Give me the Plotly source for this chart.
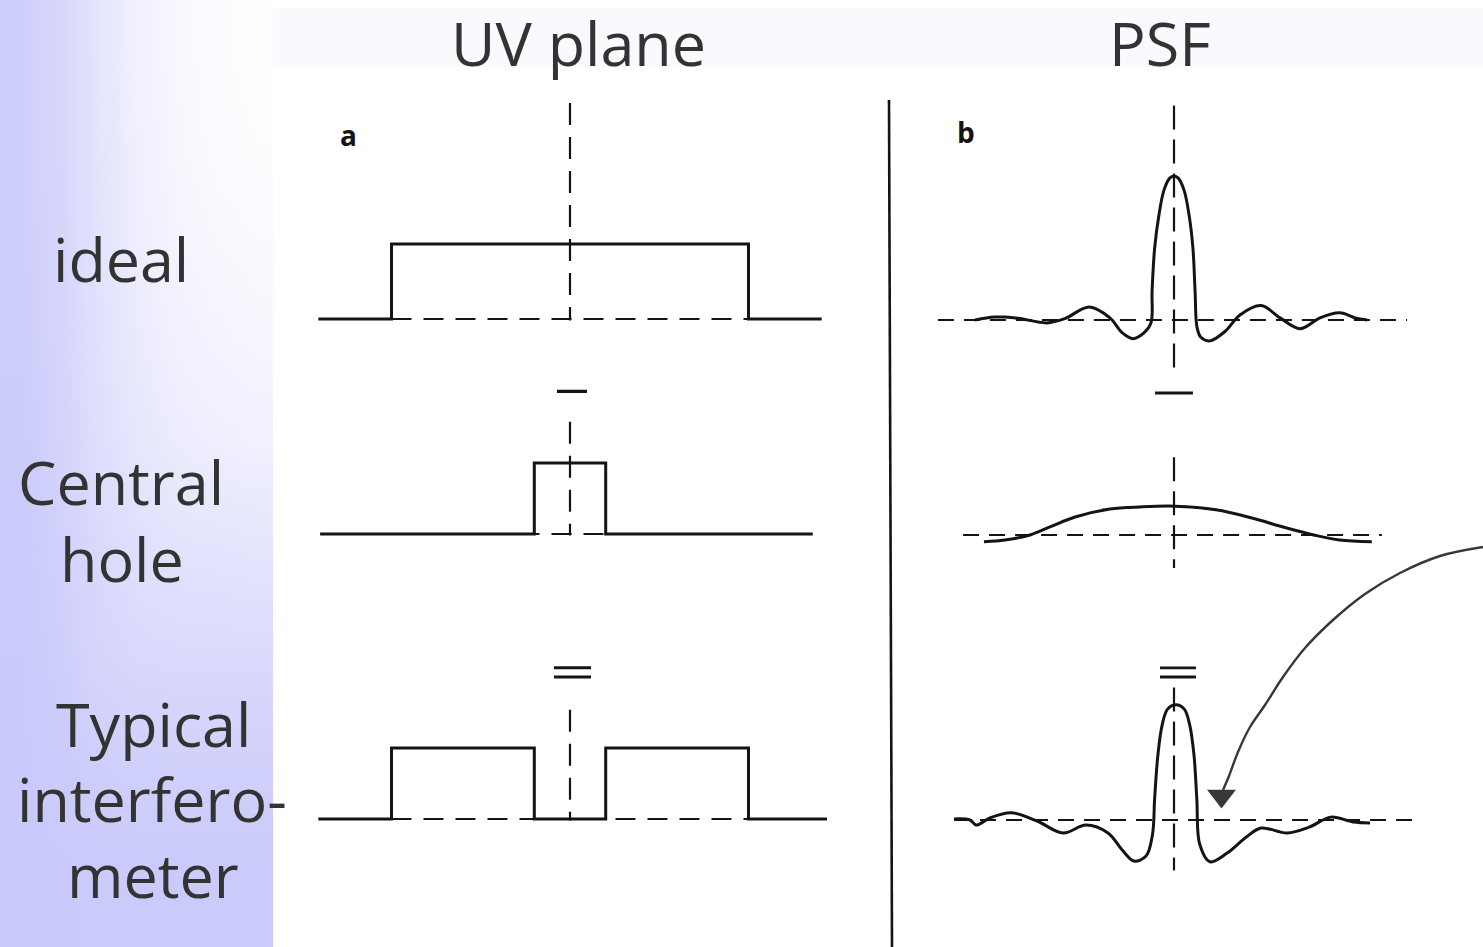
import plotly.graph_objects as go

W, H = 1483, 947

# ---------------- data ----------------
# UV-plane coverage profiles (u in units of the aperture half-width)
uv_ideal_u = [-1.41, -1.0, -1.0, 1.0, 1.0, 1.41]
uv_ideal_v = [0, 0, 1, 1, 0, 0]
uv_hole_u = [-1.40, -0.2, -0.2, 0.2, 0.2, 1.36]
uv_hole_v = [0, 0, 1, 1, 0, 0]
uv_typ_u = [-1.41, -1.0, -1.0, -0.2, -0.2, 0.2, 0.2, 1.0, 1.0, 1.44]
uv_typ_v = [0, 0, 1, 1, 0, 0, 1, 1, 0, 0]

# Point spread functions (l in units of the first null, amplitude relative to ideal peak)
psf_ideal_l = [-9.26, -8.37, -7.86, -7.16, -5.91, -5.07, -3.95, -2.98, -2.4, -1.91, -1.4,
               -1.07, -1.02, -0.9, -0.7, -0.47, -0.2, 0.0, 0.2, 0.47, 0.7, 0.88, 0.98,
               1.07, 1.25, 1.67, 2.37, 3.07, 4.05, 4.93, 5.86, 6.79, 7.72, 8.42, 8.98]
psf_ideal_v = [0.0, 0.02, 0.02, 0.01, -0.02, 0.01, 0.09, 0.015, -0.09, -0.13, -0.09,
               -0.02, 0.2, 0.5, 0.73, 0.9, 0.985, 1.0, 0.985, 0.9, 0.73, 0.5, 0.2,
               -0.05, -0.12, -0.145, -0.08, 0.035, 0.1, 0.015, -0.06, 0.015, 0.05, 0.015, 0.0]

psf_hole_l = [-8.84, -7.86, -6.7, -5.77, -4.6, -2.98, -1.58, 0.05, 1.95, 3.58, 5.2, 6.5, 7.7, 9.2]
psf_hole_v = [-0.047, -0.035, 0.0, 0.056, 0.125, 0.18, 0.195, 0.2, 0.175, 0.12, 0.05, 0.0, -0.035, -0.047]

psf_typ_l = [-10.23, -9.49, -9.2, -8.56, -7.58, -6.37, -5.16, -4.09, -3.07, -2.4, -1.86, -1.3,
             -1.0, -0.9, -0.75, -0.55, -0.3, 0.09, 0.48, 0.73, 0.93, 1.06, 1.2, 1.67,
             2.47, 3.35, 4.05, 5.26, 6.28, 7.3, 8.33, 9.12]
psf_typ_v = [0.007, 0.0, -0.035, 0.014, 0.05, -0.007, -0.09, -0.035, -0.09, -0.21, -0.285, -0.25,
             -0.1, 0.15, 0.45, 0.66, 0.77, 0.8, 0.77, 0.66, 0.45, 0.15, -0.17, -0.29,
             -0.23, -0.12, -0.056, -0.09, -0.05, 0.02, -0.014, -0.02]

# reference (zero / centre) lines of each panel
uv_zero_span = [-1.0, 1.0]
uv_axis_top = [2.88, 1.58, 1.54]
psf_zero_span = [[-10.98, 10.84], [-9.81, 9.67], [-10.23, 11.35]]
psf_axis_span = [[1.49, -0.40], [0.54, -0.23], [0.92, -0.35]]

# operator symbols ("−" and "=") between the rows
uv_minus = ([-0.073, 0.095], 2.01)
uv_equal = ([-0.09, 0.118], [2.13, 2.0])
psf_minus = ([-0.88, 0.88], 0.986)
psf_equal = ([-0.65, 1.02], [1.056, 0.993])

# text
col_titles = ["UV plane", "PSF"]
row_labels = ["ideal", "Central", "hole", "Typical", "interfero-", "meter"]
panel_tags = ["a", "b"]

# background shading of the left band (0 = lavender, 1 = white)
bg_x_edges = [0, 40, 80, 120, 160, 200, 240, 273]
bg_y_edges = [0, 100, 200, 300, 400, 500, 600, 700, 800, 947]
bg_white = [
    [0.10, 0.25, 0.52, 0.74, 0.87, 0.94, 0.98],
    [0.10, 0.25, 0.50, 0.72, 0.85, 0.92, 0.95],
    [0.09, 0.23, 0.48, 0.68, 0.80, 0.86, 0.89],
    [0.07, 0.21, 0.45, 0.62, 0.73, 0.78, 0.82],
    [0.05, 0.18, 0.40, 0.55, 0.64, 0.68, 0.71],
    [0.03, 0.14, 0.30, 0.42, 0.48, 0.50, 0.52],
    [0.01, 0.10, 0.24, 0.30, 0.32, 0.32, 0.32],
    [0.00, 0.05, 0.12, 0.15, 0.16, 0.16, 0.16],
    [0.00, 0.00, 0.02, 0.03, 0.03, 0.03, 0.03],
]

# curved pointer towards the negative sidelobes
arrow_x = [1483, 1440, 1400, 1365, 1333, 1305, 1283, 1265, 1250, 1238, 1229, 1223]
arrow_y = [547, 556, 573, 594, 620, 648, 677, 705, 727, 752, 776, 790]

# ---------------- layout geometry ----------------
UV_C, UV_S, UV_DOM = 570, 178.5, (300, 840)
PSF_C, PSF_S, PSF_DOM = 1174, 21.5, (930, 1430)
UV_BASE, UV_UNIT, UV_YR = [319, 534, 819], [75, 71, 71], (-0.5, 3.2)
PSF_BASE, PSF_UNIT, PSF_YR = [320, 535, 820], 144, (-0.6, 1.6)

INK = "#141414"
TXT = "#333333"
FONT = "Open Sans, Liberation Sans, sans-serif"


def xdom(p0, p1):
    return [p0 / W, p1 / W]


def ydom(ptop, pbot):
    return [1 - pbot / H, 1 - ptop / H]


fig = go.Figure()
layout = dict(
    width=W, height=H, margin=dict(l=0, r=0, t=0, b=0),
    paper_bgcolor="white", plot_bgcolor="rgba(0,0,0,0)",
    showlegend=False, hovermode=False,
)

hidden = dict(visible=False, showgrid=False, zeroline=False, fixedrange=True)
layout["xaxis"] = dict(hidden, range=[0, W], domain=[0, 1])
layout["yaxis"] = dict(hidden, range=[H, 0], domain=[0, 1])

# background band
fig.add_trace(go.Heatmap(
    x=bg_x_edges, y=bg_y_edges, z=bg_white, zmin=0, zmax=1, zsmooth="best",
    colorscale=[[0, "#c9c9fb"], [1, "#ffffff"]], showscale=False,
    hoverinfo="skip", xaxis="x", yaxis="y"))

# arrow
fig.add_trace(go.Scatter(x=arrow_x, y=arrow_y, mode="lines", line_shape="spline",
                         line=dict(color="#383838", width=2.4), xaxis="x", yaxis="y"))
fig.add_trace(go.Scatter(x=[arrow_x[-1] - 1.5], y=[arrow_y[-1] + 6], mode="markers",
                         marker=dict(symbol="triangle-down", size=25, color="#383838"),
                         xaxis="x", yaxis="y"))

shapes = [
    dict(type="rect", xref="x", yref="y", x0=273, x1=W, y0=8, y1=67,
         fillcolor="#f9f9fe", line_width=0, layer="below"),
    dict(type="line", xref="x", yref="y", x0=889, y0=100, x1=892, y1=H,
         line=dict(color=INK, width=2.6)),
]

ax = 2


def add_panel(xr, xd, yr, yd):
    global ax
    layout[f"xaxis{ax}"] = dict(hidden, range=xr, domain=xd, anchor=f"y{ax}")
    layout[f"yaxis{ax}"] = dict(hidden, range=yr, domain=yd, anchor=f"x{ax}")
    ids = (f"x{ax}", f"y{ax}")
    ax += 1
    return ids


def line(ids, x, y, dash="solid", width=3, shape="linear"):
    fig.add_trace(go.Scatter(x=x, y=y, mode="lines", line_shape=shape,
                             line=dict(color=INK, width=width, dash=dash),
                             xaxis=ids[0], yaxis=ids[1]))


uv_curves = [(uv_ideal_u, uv_ideal_v), (uv_hole_u, uv_hole_v), (uv_typ_u, uv_typ_v)]
psf_curves = [(psf_ideal_l, psf_ideal_v), (psf_hole_l, psf_hole_v), (psf_typ_l, psf_typ_v)]

for r in range(3):
    # UV panel
    b, u = UV_BASE[r], UV_UNIT[r]
    ids = add_panel([(UV_DOM[0] - UV_C) / UV_S, (UV_DOM[1] - UV_C) / UV_S], xdom(*UV_DOM),
                    list(UV_YR), ydom(b - UV_YR[1] * u, b - UV_YR[0] * u))
    line(ids, uv_zero_span, [0, 0], dash="20px,12px", width=2.2)
    line(ids, [0, 0], [uv_axis_top[r], -0.02], dash="22px,12px", width=2.2)
    line(ids, uv_curves[r][0], uv_curves[r][1])
    if r == 1:
        line(ids, uv_minus[0], [uv_minus[1]] * 2, width=3.2)
    if r == 2:
        for yv in uv_equal[1]:
            line(ids, uv_equal[0], [yv, yv], width=2.8)

    # PSF panel
    b = PSF_BASE[r]
    ids = add_panel([(PSF_DOM[0] - PSF_C) / PSF_S, (PSF_DOM[1] - PSF_C) / PSF_S], xdom(*PSF_DOM),
                    list(PSF_YR), ydom(b - PSF_YR[1] * PSF_UNIT, b - PSF_YR[0] * PSF_UNIT))
    line(ids, psf_zero_span[r], [0, 0], dash="16px,10px", width=2.2)
    line(ids, [0, 0], psf_axis_span[r], dash="24px,10px", width=2.2)
    line(ids, psf_curves[r][0], psf_curves[r][1], shape="spline", width=3)
    if r == 1:
        line(ids, psf_minus[0], [psf_minus[1]] * 2, width=3.2)
    if r == 2:
        for yv in psf_equal[1]:
            line(ids, psf_equal[0], [yv, yv], width=2.8)

# text
ann = []
for t, x in zip(col_titles, [578, 1160]):
    ann.append(dict(text=t, x=x, y=42))
for t, x, y in zip(row_labels, [121, 121, 122, 153, 152, 153], [258, 481, 558, 723, 798, 874]):
    ann.append(dict(text=t, x=x, y=y))
annotations = [dict(a, xref="x", yref="y", showarrow=False, xanchor="center", yanchor="middle",
                    font=dict(family=FONT, size=61, color=TXT)) for a in ann]
for t, x, y in zip(panel_tags, [348, 966], [135, 132]):
    annotations.append(dict(text=f"<b>{t}</b>", x=x, y=y, xref="x", yref="y", showarrow=False,
                            xanchor="center", yanchor="middle",
                            font=dict(family=FONT, size=28, color=INK)))

layout["shapes"] = shapes
layout["annotations"] = annotations
fig.update_layout(**layout)
fig.write_html("out.html")
